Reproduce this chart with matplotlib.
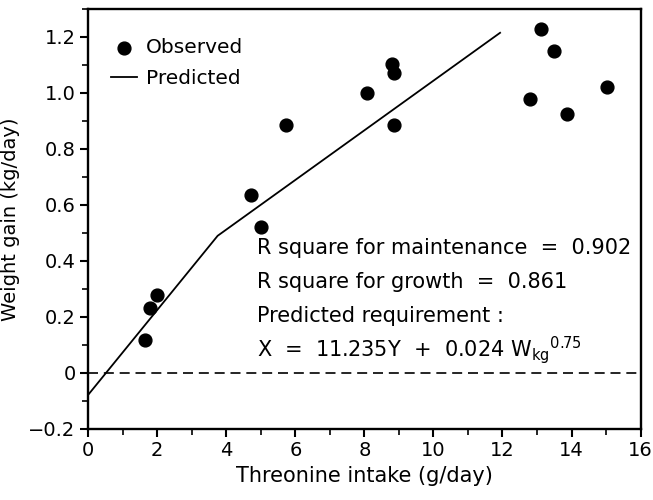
import matplotlib
matplotlib.use("Agg")
import matplotlib.pyplot as plt
from matplotlib.ticker import MultipleLocator

plt.rcParams['font.family'] = ['DejaVu Sans']
plt.rcParams['mathtext.fontset'] = 'dejavusans'
plt.rcParams['mathtext.default'] = 'regular'

obs_x = [1.64, 1.79, 1.98, 4.72, 5.0, 5.73, 8.07, 8.79, 8.85, 8.87, 12.8, 13.12, 13.5, 13.87, 15.02]
obs_y = [0.118, 0.233, 0.28, 0.634, 0.523, 0.885, 1.0, 1.104, 1.072, 0.885, 0.98, 1.229, 1.151, 0.925, 1.022]

pred_x = [0.0, 3.75, 11.93]
pred_y = [-0.078, 0.49, 1.215]

annot_lines = [
    "R square for maintenance  =  0.902",
    "R square for growth  =  0.861",
    "Predicted requirement :",
    r"X  =  11.235Y  +  0.024 W$_{kg}{}^{0.75}$",
]

fig = plt.figure(figsize=(6.53, 5.0), dpi=100)
ax = fig.add_axes([0.135, 0.142, 0.846, 0.840])

ax.scatter(obs_x, obs_y, s=85, color='black', zorder=3, label='Observed')
ax.plot(pred_x, pred_y, color='black', lw=1.3, label='Predicted')
ax.axhline(0, color='black', lw=1.2, ls=(0, (6, 3.5)))

ax.set_xlim(0, 16)
ax.set_ylim(-0.2, 1.3)
ax.xaxis.set_major_locator(MultipleLocator(2))
ax.xaxis.set_minor_locator(MultipleLocator(1))
ax.yaxis.set_minor_locator(MultipleLocator(0.1))
ax.set_yticks([-0.2, 0, 0.2, 0.4, 0.6, 0.8, 1.0, 1.2])
ax.set_yticklabels(['\u22120.2', '0', '0.2', '0.4', '0.6', '0.8', '1.0', '1.2'])
ax.tick_params(which='major', length=6, width=1.5, labelsize=14, direction='out', pad=3)
ax.tick_params(which='minor', length=4, width=1.2, direction='out')
for sp in ax.spines.values():
    sp.set_linewidth(1.7)

ax.set_xlabel('Threonine intake (g/day)', fontsize=15, labelpad=4)
ax.set_ylabel('Weight gain (kg/day)', fontsize=14, labelpad=6)

ax.legend(loc='upper left', frameon=False, fontsize=14.5, handlelength=1.3,
          handletextpad=0.4, bbox_to_anchor=(0.02, 0.96), borderaxespad=0.2,
          labelspacing=0.6)

ys = [0.448, 0.326, 0.204, 0.082]
for t, y in zip(annot_lines, ys):
    ax.text(4.9, y, t, fontsize=15, va='center', ha='left')

fig.savefig('out.png', dpi=100)
